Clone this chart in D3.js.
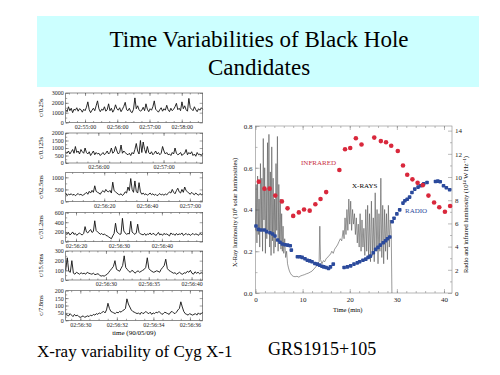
<!DOCTYPE html>
<html>
<head>
<meta charset="utf-8">
<script src="https://cdn.jsdelivr.net/npm/d3@7"></script>
<style>
  body { margin: 0; background: #fff; }
</style>
</head>
<body>
<div id="chart"></div>
<script>
// ---- left: Cyg X-1 light curves (six time resolutions) ----
var panelNames = ["c/0.25s", "c/0.125s", "c/62.5ms", "c/31.2ms", "c/15.6ms", "c/7.8ms"];
var panelStart = ["02:54:24", "02:55:30", "02:56:02", "02:56:17.6", "02:56:25.3", "02:56:29.2"];
var panelEnd   = ["02:58:39", "02:57:36", "02:57:06", "02:56:49.5", "02:56:41.3", "02:56:36.7"];
var panelYMax  = [3000, 2000, 1200, 600, 300, 200];
var panelYTicks = [[0, 1000, 2000, 3000], [0, 500, 1000, 1500, 2000], [0, 500, 1000],
                   [0, 200, 400, 600], [0, 100, 200, 300], [0, 50, 100, 150, 200]];
var panelXTicks = [["02:55:00", "02:56:00", "02:57:00", "02:58:00"],
                   ["02:56:00", "02:57:00"],
                   ["02:56:20", "02:56:40", "02:57:00"],
                   ["02:56:20", "02:56:30", "02:56:40"],
                   ["02:56:30", "02:56:35", "02:56:40"],
                   ["02:56:30", "02:56:32", "02:56:34", "02:56:36"]];

var rate1 = [1300,1100,1600,1200,1450,1000,1350,1250,1500,1150,1400,1300,1050,1350,1200,1550,2100,1300,1000,1250,1450,1200,1700,2200,1400,1100,1350,1250,1600,1150,1300,1900,1200,1450,1050,1300,1800,1400,1250,1500,1100,1350,1650,2050,1300,1200,1450,1100,1000,1350,2500,1400,1700,1300,1150,1250,1550,1200,1900,1350,1100,1400,1250,1600,2200,1350,1200,1050,1300,1500,1150,1400,1250,1750,1300,1100,1450,1200,1350,1600,1950,1300,1450,1200,2100,1400,1700,1300,1150,2450,1500,1350,1200,1600,1300,1100,1400,1250,1500,1350];
var rate2 = [700,650,800,600,750,900,650,1100,700,800,600,900,750,650,1000,700,600,750,500,650,800,550,700,600,650,500,600,700,550,650,800,600,700,1000,650,750,1100,800,600,700,1200,650,800,700,600,550,650,500,700,600,900,1300,800,600,1500,700,1400,900,650,1100,700,600,750,550,650,800,600,700,550,650,1100,800,600,700,550,600,500,700,600,1000,650,550,600,700,500,600,650,900,550,700,600,750,500,600,450,700,550,600,500,650];
var rate3 = [350,250,300,280,320,260,300,240,290,330,270,300,250,280,320,380,300,420,350,460,380,650,420,380,350,300,400,450,380,500,420,400,460,350,800,450,400,350,300,280,320,250,300,400,350,600,450,950,500,380,850,420,350,780,400,300,350,280,320,260,300,350,280,320,260,300,240,280,330,270,300,260,310,280,330,400,350,500,380,320,450,550,400,350,500,380,600,450,400,350,300,380,320,280,350,300,260,330,280,300];
var rate4 = [170,150,190,140,160,200,150,170,130,160,180,150,140,170,310,200,180,220,250,190,210,430,230,200,180,150,170,140,160,130,120,100,80,60,120,170,380,200,180,150,160,480,220,180,150,170,160,420,200,170,150,180,360,190,160,150,140,170,130,160,150,180,140,170,160,130,150,190,140,160,130,170,150,160,140,120,180,150,160,130,170,140,160,150,180,130,150,170,140,160,130,150,170,140,160,150,130,170,150,160];
var rate5 = [100,230,90,80,200,70,60,80,70,60,75,65,70,60,80,70,65,60,70,55,60,65,50,40,45,40,50,60,80,100,120,140,200,110,100,90,120,150,250,130,110,90,80,100,90,70,85,95,80,90,100,110,130,230,120,100,90,80,85,95,90,80,110,130,150,215,120,100,90,80,70,75,60,70,80,65,60,75,70,90,80,100,70,60,85,70,80,65,75,70];
var rate6 = [40,35,30,45,35,25,40,30,35,25,20,25,30,20,25,30,25,35,30,40,35,45,40,50,45,55,60,50,70,115,80,60,55,50,45,55,50,60,55,65,70,80,145,110,90,70,60,55,50,45,50,40,55,45,50,60,50,45,55,40,50,45,55,50,60,50,40,45,55,50,45,40,55,60,50,45,55,70,80,125,90,60,45,40,35,45,40,35,40,45,35,50,40,45,55];
var panelRates = [rate1, rate2, rate3, rate4, rate5, rate6];

// ---- right: GRS 1915+105 ----
var xrayT = [0,0.15,0.3,0.45,0.6,0.75,0.9,1.05,1.2,1.35,1.5,1.65,1.8,1.95,2.1,2.25,2.4,2.55,2.7,2.85,3.0,3.15,3.3,3.45,3.6,3.75,3.9,4.05,4.2,4.35,4.5,4.65,4.8,4.95,5.1,5.25,5.4,5.55,5.7,5.85,6.0,6.2,6.4,6.6,6.8,7.0,7.2,7.4,7.7,8.0,8.4,8.8,9.2,9.6,10.0,10.4,10.8,11.2,11.6,12.0,12.4,12.8,13.2,13.5,13.65,13.8,14.1,14.4,14.7,15.0,15.3,15.6,15.9,16.2,16.5,16.8,17.1,17.4,17.7,18.0,18.3,18.6,18.8,19.0,19.2,19.4,19.6,19.8,20.0,20.2,20.4,20.6,20.8,21.0,21.2,21.4,21.6,21.8,22.0,22.2,22.4,22.6,22.8,23.0,23.2,23.4,23.6,23.8,24.0,24.2,24.4,24.6,24.8,25.0,25.2,25.4,25.6,25.8,26.0,26.2,26.4,26.6,26.8,27.0,27.2,27.4,27.6,27.8,28.0,28.2,28.4,28.6,28.8,28.95];
var xrayV = [0.30,0.52,0.24,0.56,0.28,0.45,0.22,0.62,0.30,0.55,0.20,0.74,0.35,0.60,0.19,0.50,0.26,0.72,0.30,0.76,0.22,0.58,0.18,0.70,0.25,0.55,0.19,0.45,0.22,0.62,0.30,0.75,0.20,0.52,0.24,0.45,0.21,0.38,0.20,0.32,0.19,0.26,0.17,0.20,0.14,0.12,0.105,0.095,0.085,0.08,0.078,0.08,0.076,0.082,0.085,0.088,0.092,0.095,0.10,0.105,0.115,0.125,0.14,0.15,0.32,0.16,0.14,0.155,0.15,0.165,0.17,0.18,0.185,0.20,0.19,0.21,0.22,0.23,0.245,0.26,0.25,0.30,0.26,0.36,0.28,0.40,0.30,0.45,0.33,0.44,0.30,0.40,0.33,0.38,0.28,0.36,0.24,0.33,0.22,0.38,0.20,0.35,0.22,0.31,0.18,0.40,0.20,0.42,0.17,0.38,0.15,0.44,0.18,0.36,0.15,0.48,0.20,0.40,0.14,0.38,0.20,0.55,0.17,0.42,0.14,0.40,0.20,0.38,0.16,0.42,0.22,0.35,0.30,0.0];

var irT = [0.7,1.9,3.0,4.2,5.6,6.8,8.0,9.2,10.3,11.5,12.7,13.8,15.0,17.8,19.0,20.1,21.3,22.5,25.2,26.6,27.7,28.8,30.2,31.3,32.2,33.3,34.4,35.5,36.7,37.9,39.0,40.2,41.3];
var irV = [9.6,9.0,9.0,8.4,7.9,7.3,6.65,6.95,7.2,7.1,7.65,8.1,8.7,10.6,12.4,12.5,13.35,12.8,13.4,13.1,13.0,12.7,12.25,11.0,10.2,9.8,9.5,9.3,8.4,7.8,7.4,7.0,7.5];

var radioT = [0.1,0.6,1.17,1.87,2.37,3.07,3.64,4.13,4.7,5.2,5.68,6.25,6.82,7.37,7.6,
  8.9,9.4,9.9,10.5,11.0,11.5,12.0,12.6,13.1,13.6,14.1,14.5,15.0,15.5,15.9,16.5,
  18.8,19.5,20.2,20.9,21.6,22.1,22.8,23.4,23.9,24.4,25.0,25.5,26.0,26.5,27.1,27.6,28.0,28.5,
  29.0,29.4,30.0,30.6,31.3,31.7,32.2,32.7,33.2,33.8,34.5,35.0,35.7,36.4,
  38.2,38.7,39.2,39.9,40.5,41.2];
var radioV = [5.78,5.49,5.43,5.43,5.29,5.2,5.09,4.91,4.57,4.37,4.22,4.16,4.13,4.07,3.7,
  3.12,3.12,3.07,2.95,2.83,2.77,2.69,2.55,2.49,2.4,2.31,2.25,2.2,2.11,2.25,2.49,
  2.2,2.25,2.34,2.49,2.6,2.69,2.83,2.92,3.07,3.18,3.47,3.76,3.93,4.13,4.33,4.5,4.68,4.83,
  6.15,6.45,6.82,7.17,7.75,7.95,8.09,8.27,8.67,8.96,9.13,9.25,9.42,9.53,
  9.62,9.65,9.59,9.25,9.07,8.9];

var xTicksR = [0, 10, 20, 30, 40];
var yTicksL = [0, 0.2, 0.4, 0.6, 0.8];
var yTicksR = [0, 2, 4, 6, 8, 10, 12, 14];

var serif = "'Liberation Serif', 'Times New Roman', 'DejaVu Serif', serif";

function toSec(s) {
  var p = s.split(":");
  return +p[0] * 3600 + +p[1] * 60 + +p[2];
}

var svg = d3.select("#chart").append("svg")
    .attr("width", 500)
    .attr("height", 375);

// title box
svg.append("rect")
    .attr("x", 37).attr("y", 16)
    .attr("width", 442).attr("height", 71)
    .attr("fill", "#ccffff");
svg.append("text")
    .attr("x", 259).attr("y", 47)
    .attr("text-anchor", "middle")
    .style("font-size", "23px")
    .text("Time Variabilities of Black Hole");
svg.append("text")
    .attr("x", 259).attr("y", 75)
    .attr("text-anchor", "middle")
    .style("font-size", "23px")
    .text("Candidates");

// ---------- left panels ----------
var pLeft = 65.7, pRight = 202.7;
var pTop = [93, 133, 172.5, 212.5, 251, 290.7];
var pBottom = [122.5, 163, 201.5, 241.7, 280, 320.3];
var xMinorStep = [15, 10, 5, 2, 1, 0.5];
var yMinorStep = [500, 250, 250, 100, 50, 25];

function noDomain(a) { a.select(".domain").remove(); }

panelRates.forEach(function(rates, k) {
  var t0 = toSec(panelStart[k]), t1 = toSec(panelEnd[k]);
  var x = d3.scaleLinear().domain([t0, t1]).range([pLeft, pRight]);
  var y = d3.scaleLinear().domain([0, panelYMax[k]]).range([pBottom[k], pTop[k]]);
  var dt = (t1 - t0) / (rates.length - 1);
  var g = svg.append("g");

  var line = d3.line()
      .x(function(d, i) { return x(t0 + i * dt); })
      .y(function(d) { return y(d); });
  g.append("path")
      .datum(rates)
      .attr("fill", "none")
      .attr("stroke", "#111")
      .attr("stroke-width", 0.9)
      .attr("d", line);

  var xMinor = d3.range(Math.ceil(t0 / xMinorStep[k]) * xMinorStep[k], t1, xMinorStep[k]);
  var yMinor = d3.range(0, panelYMax[k], yMinorStep[k]);
  var xt = panelXTicks[k].map(toSec);

  // bottom axis with labels
  g.append("g")
      .attr("transform", "translate(0," + pBottom[k] + ")")
      .call(d3.axisBottom(x).tickValues(xt).tickSize(-3).tickPadding(2)
        .tickFormat(function(d, i) { return panelXTicks[k][i]; }))
      .call(noDomain)
      .call(function(a) { a.selectAll("text").style("font-size", "6px"); });
  g.append("g")
      .attr("transform", "translate(0," + pBottom[k] + ")")
      .call(d3.axisBottom(x).tickValues(xMinor).tickSize(-1.5).tickFormat(""))
      .call(noDomain);
  // top ticks
  g.append("g")
      .attr("transform", "translate(0," + pTop[k] + ")")
      .call(d3.axisTop(x).tickValues(xt).tickSize(-3).tickFormat(""))
      .call(noDomain);
  g.append("g")
      .attr("transform", "translate(0," + pTop[k] + ")")
      .call(d3.axisTop(x).tickValues(xMinor).tickSize(-1.5).tickFormat(""))
      .call(noDomain);
  // left axis with labels
  g.append("g")
      .attr("transform", "translate(" + pLeft + ",0)")
      .call(d3.axisLeft(y).tickValues(panelYTicks[k]).tickSize(-3).tickPadding(2).tickFormat(d3.format("d")))
      .call(noDomain)
      .call(function(a) { a.selectAll("text").style("font-size", "6px"); });
  g.append("g")
      .attr("transform", "translate(" + pLeft + ",0)")
      .call(d3.axisLeft(y).tickValues(yMinor).tickSize(-1.5).tickFormat(""))
      .call(noDomain);
  // right ticks
  g.append("g")
      .attr("transform", "translate(" + pRight + ",0)")
      .call(d3.axisRight(y).tickValues(panelYTicks[k]).tickSize(-3).tickFormat(""))
      .call(noDomain);

  g.selectAll(".tick line").attr("stroke", "#444").attr("stroke-width", 0.5);

  g.append("rect")
      .attr("x", pLeft).attr("y", pTop[k])
      .attr("width", pRight - pLeft).attr("height", pBottom[k] - pTop[k])
      .attr("fill", "none").attr("stroke", "#444").attr("stroke-width", 0.6);

  g.append("text")
      .attr("transform", "translate(43," + ((pTop[k] + pBottom[k]) / 2) + ") rotate(-90)")
      .attr("text-anchor", "middle")
      .style("font-size", "6.5px")
      .text(panelNames[k]);
});

svg.append("text")
    .attr("x", 134).attr("y", 335)
    .attr("text-anchor", "middle")
    .style("font-size", "7px")
    .text("time (90/05/09)");

svg.append("text")
    .attr("x", 37).attr("y", 357)
    .style("font-size", "17px")
    .text("X-ray variability of Cyg X-1");

// ---------- right chart ----------
var rL = 255.5, rR = 452, rT = 126, rB = 293;
var xR = d3.scaleLinear().domain([0, 41.7]).range([rL, rR]);
var yL = d3.scaleLinear().domain([0, 0.8]).range([rB, rT]);
var yR = d3.scaleLinear().domain([0, 14.4]).range([rB, rT]);
var gr = svg.append("g");

function smallText(a) { a.selectAll("text").style("font-size", "7px"); }

gr.append("g").attr("transform", "translate(0," + rB + ")")
    .call(d3.axisBottom(xR).tickValues(xTicksR).tickSize(-4).tickPadding(4))
    .call(noDomain).call(smallText);
gr.append("g").attr("transform", "translate(0," + rB + ")")
    .call(d3.axisBottom(xR).tickValues(d3.range(0, 41.7, 2)).tickSize(-2).tickFormat(""))
    .call(noDomain);
gr.append("g").attr("transform", "translate(0," + rT + ")")
    .call(d3.axisTop(xR).tickValues(xTicksR).tickSize(-4).tickFormat(""))
    .call(noDomain);
gr.append("g").attr("transform", "translate(0," + rT + ")")
    .call(d3.axisTop(xR).tickValues(d3.range(0, 41.7, 2)).tickSize(-2).tickFormat(""))
    .call(noDomain);
gr.append("g").attr("transform", "translate(" + rL + ",0)")
    .call(d3.axisLeft(yL).tickValues(yTicksL).tickSize(-4).tickPadding(3).tickFormat(d3.format(".1f")))
    .call(noDomain).call(smallText);
gr.append("g").attr("transform", "translate(" + rL + ",0)")
    .call(d3.axisLeft(yL).tickValues(d3.range(0, 0.8, 0.1)).tickSize(-2).tickFormat(""))
    .call(noDomain);
gr.append("g").attr("transform", "translate(" + rR + ",0)")
    .call(d3.axisRight(yR).tickValues(yTicksR).tickSize(-4).tickPadding(3))
    .call(noDomain).call(smallText);
gr.append("g").attr("transform", "translate(" + rR + ",0)")
    .call(d3.axisRight(yR).tickValues(d3.range(1, 14.4, 2)).tickSize(-2).tickFormat(""))
    .call(noDomain);
gr.selectAll(".tick line").attr("stroke", "#777").attr("stroke-width", 0.5);

gr.append("rect")
    .attr("x", rL).attr("y", rT)
    .attr("width", rR - rL).attr("height", rB - rT)
    .attr("fill", "none").attr("stroke", "#888").attr("stroke-width", 0.6);

// X-ray line
var xrayLine = d3.line()
    .x(function(d, i) { return xR(xrayT[i]); })
    .y(function(d) { return yL(d); });
gr.append("path")
    .datum(xrayV)
    .attr("fill", "none")
    .attr("stroke", "#555")
    .attr("stroke-width", 0.6)
    .attr("d", xrayLine);

// radio points
gr.append("g").selectAll("rect")
    .data(radioV)
    .enter()
    .append("rect")
      .attr("x", function(d, i) { return xR(radioT[i]) - 1.8; })
      .attr("y", function(d) { return yR(d) - 1.8; })
      .attr("width", 3.6).attr("height", 3.6)
      .attr("rx", 0.8)
      .attr("fill", "#2b4a9c");

// infrared points
gr.append("g").selectAll("circle")
    .data(irV)
    .enter()
    .append("circle")
      .attr("cx", function(d, i) { return xR(irT[i]); })
      .attr("cy", function(d) { return yR(d); })
      .attr("r", 2.3)
      .attr("fill", "#d9283c");

gr.append("text").attr("x", 301).attr("y", 165)
    .style("font-size", "7px").attr("fill", "#c8303f").text("INFRARED");
gr.append("text").attr("x", 352).attr("y", 188)
    .style("font-size", "7px").text("X-RAYS");
gr.append("text").attr("x", 405).attr("y", 213)
    .style("font-size", "7px").attr("fill", "#2b4a9c").text("RADIO");

gr.append("text")
    .attr("x", (rL + rR) / 2 - 6).attr("y", 312)
    .attr("text-anchor", "middle")
    .style("font-size", "6.5px")
    .text("Time (min)");
gr.append("text")
    .attr("transform", "translate(237," + ((rT + rB) / 2 + 3) + ") rotate(-90)")
    .attr("text-anchor", "middle")
    .style("font-size", "6.5px")
    .text("X-Ray luminosity (10\u2076 solar luminosities)");
gr.append("text")
    .attr("transform", "translate(468," + ((rT + rB) / 2 + 5) + ") rotate(-90)")
    .attr("text-anchor", "middle")
    .style("font-size", "6.5px")
    .text("Radio and infrared luminosity (10\u00b9\u2074 W Hz\u207b\u00b9)");

svg.append("text")
    .attr("x", 268).attr("y", 355)
    .style("font-size", "18px")
    .text("GRS1915+105");

// serif everywhere, dark gray small labels
svg.selectAll("text").style("font-family", serif);
svg.selectAll(".tick text").attr("fill", "#222");
</script>
</body>
</html>
